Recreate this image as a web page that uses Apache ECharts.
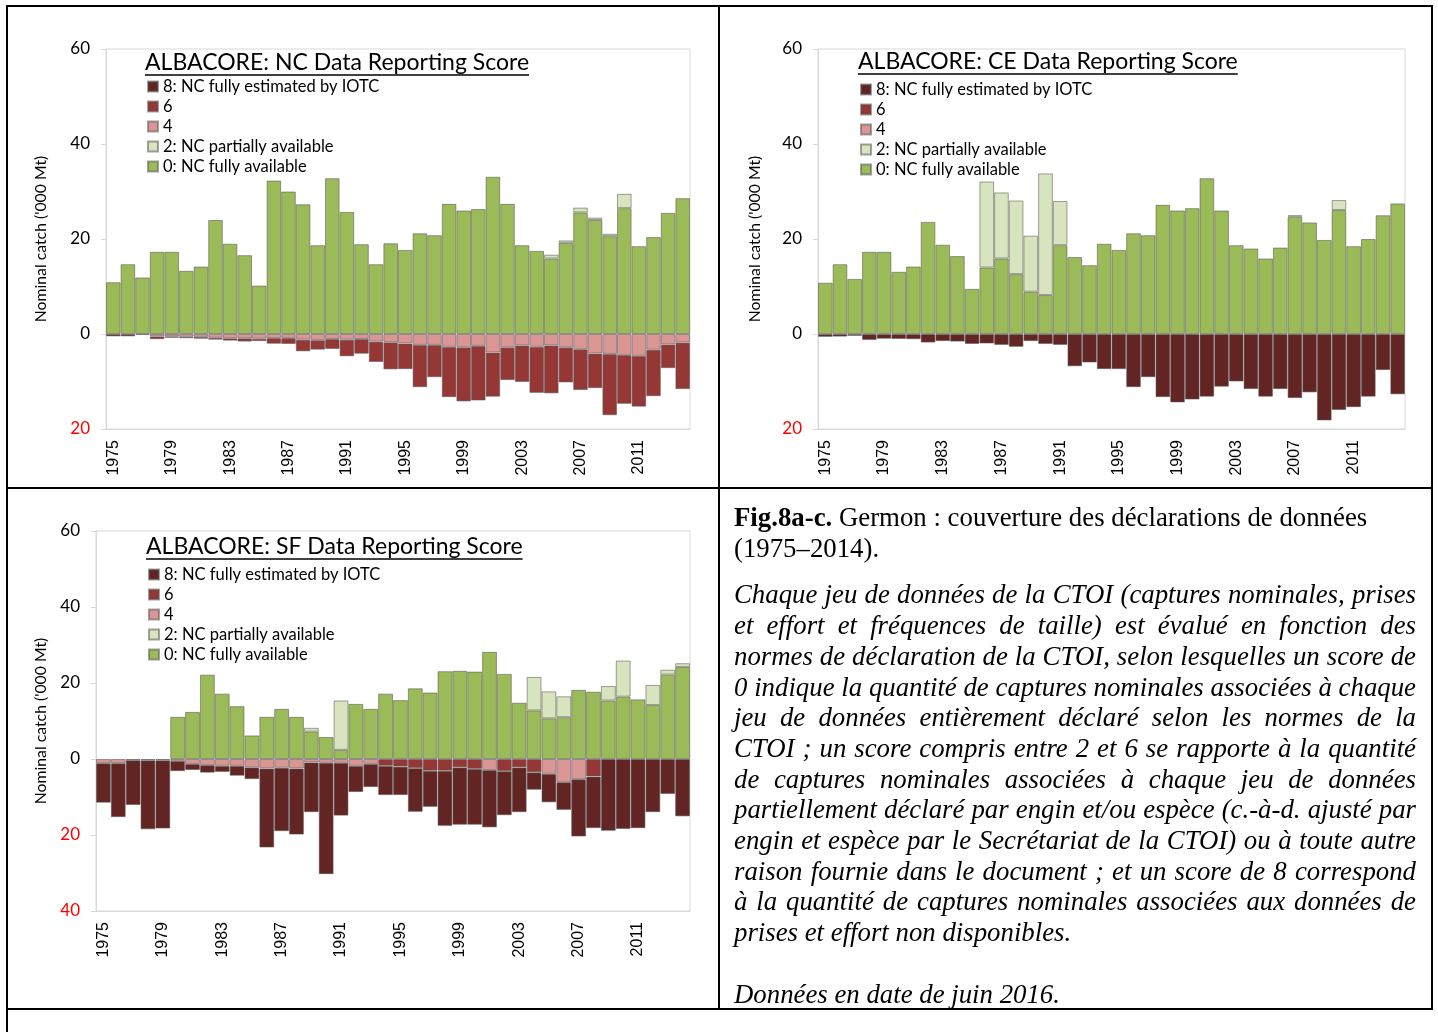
<!DOCTYPE html>
<html><head><meta charset="utf-8">
<script src="https://cdn.jsdelivr.net/npm/echarts@6/dist/echarts.min.js"></script>
<style>
html,body{margin:0;padding:0;background:#fff;}
#chart{position:absolute;left:0;top:0;width:1438px;height:1032px;}
#txt{position:absolute;left:734px;top:502px;width:682px;font-family:'Liberation Serif','Times New Roman',serif;font-size:26.8px;line-height:30.7px;color:#000;z-index:5;}
.it{font-style:italic;text-align:justify;}
</style></head><body>
<div id="chart"></div>
<div id="txt">
<div><b>Fig.8a-c.</b> Germon : couverture des déclarations de données (1975–2014).</div>
<div class="it" style="margin-top:16px">Chaque jeu de données de la CTOI (captures nominales, prises et effort et fréquences de taille) est évalué en fonction des normes de déclaration de la CTOI, selon lesquelles un score de 0 indique la quantité de captures nominales associées à chaque jeu de données entièrement déclaré selon les normes de la CTOI ; un score compris entre 2 et 6 se rapporte à la quantité de captures nominales associées à chaque jeu de données partiellement déclaré par engin et/ou espèce (c.-à-d. ajusté par engin et espèce par le Secrétariat de la CTOI) ou à toute autre raison fournie dans le document ; et un score de 8 correspond à la quantité de captures nominales associées aux données de prises et effort non disponibles.</div>
<div class="it" style="margin-top:30.7px">Données en date de juin 2016.</div>
</div>
<script>
const years = ['1975','1976','1977','1978','1979','1980','1981','1982','1983','1984','1985','1986','1987','1988','1989','1990','1991','1992','1993','1994','1995','1996','1997','1998','1999','2000','2001','2002','2003','2004','2005','2006','2007','2008','2009','2010','2011','2012','2013','2014'];
const scoreNames = ['0: NC fully available','2: NC partially available','4','6','8: NC fully estimated by IOTC'];
const legendOrder = ['8: NC fully estimated by IOTC','6','4','2: NC partially available','0: NC fully available'];
const titles = ['ALBACORE: NC Data Reporting Score','ALBACORE: CE Data Reporting Score','ALBACORE: SF Data Reporting Score'];
const yTicks1 = [-20,0,20,40,60];
const yTicks3 = [-40,-20,0,20,40,60];

// Panel a: NC
const ncScore0 = [10.9,14.7,11.9,17.3,17.3,13.3,14.2,24.0,19.0,16.6,10.2,32.3,30.0,27.3,18.7,32.8,25.7,18.9,14.7,19.1,17.7,21.2,20.8,27.4,26.0,26.3,33.1,27.4,18.7,17.5,15.9,19.2,25.6,24.0,20.6,26.5,18.5,20.4,25.5,28.6];
const ncScore2 = [0,0,0,0,0,0,0,0,0,0,0,0,0,0,0,0,0,0,0,0,0,0,0,0,0,0,0,0,0,0,0.8,0.5,1.0,0.5,0.5,3.0,0,0,0,0];
const ncScore4 = [0,0,0,-0.5,-0.5,-0.6,-0.6,-0.8,-0.9,-0.9,-1.0,-0.85,-0.85,-1.2,-1.3,-1.05,-1.2,-1.05,-1.6,-1.75,-2.0,-2.3,-2.3,-2.7,-2.8,-2.5,-3.9,-2.8,-2.4,-2.7,-2.4,-2.8,-3.2,-4.1,-4.2,-4.4,-4.6,-3.3,-2.2,-1.8];
const ncScore6 = [0,0,0,-0.6,-0.3,-0.3,-0.4,-0.4,-0.5,-0.7,-0.5,-1.2,-1.25,-2.45,-2.0,-2.1,-3.5,-3.1,-4.3,-5.7,-5.4,-8.9,-6.8,-10.6,-11.4,-11.5,-9.3,-6.9,-7.7,-9.7,-10.1,-7.4,-8.6,-7.3,-12.9,-10.3,-10.7,-9.8,-5.0,-9.8];
const ncScore8 = [-0.5,-0.5,-0.2,0,0,0,0,0,0,0,0,0,0,0,0,0,0,0,0,0,0,0,0,0,0,0,0,0,0,0,0,0,0,0,0,0,0,0,0,0];

// Panel b: CE
const ceScore0 = [10.8,14.7,11.6,17.3,17.3,13.1,14.2,23.6,18.8,16.4,9.5,14.0,15.9,12.6,8.9,8.2,18.7,16.2,14.5,19.0,17.7,21.2,20.8,27.2,26.0,26.5,32.8,26.0,18.7,18.0,15.9,18.2,24.7,23.5,19.8,26.1,18.5,20.0,25.0,27.5];
const ceScore2 = [0,0,0,0,0,0,0,0,0,0,0,18.1,13.9,15.5,11.8,25.6,9.3,0,0,0,0,0,0,0,0,0,0,0,0,0,0,0,0.3,0,0,2.1,0,0,0,0];
const ceScore4 = [0,0,0,0,0,0,0,0,0,0,0,0,0,0,0,0,0,0,0,0,0,0,0,0,0,0,0,0,0,0,0,0,0,0,0,0,0,0,0,0];
const ceScore6 = [0,0,0,0,0,0,0,0,0,0,0,0,0,0,0,0,0,0,0,0,0,0,0,0,0,0,0,0,0,0,0,0,0,0,0,0,0,0,0,0];
const ceScore8 = [-0.6,-0.55,-0.4,-1.25,-1.0,-1.05,-1.1,-1.8,-1.5,-1.6,-2.1,-2.0,-2.3,-2.7,-1.5,-2.1,-2.3,-6.8,-6.0,-7.4,-7.4,-11.2,-9.1,-13.3,-14.4,-13.8,-13.2,-11.1,-10.0,-11.6,-13.2,-11.6,-13.5,-12.3,-18.2,-16.0,-15.4,-13.2,-7.6,-12.7];

// Panel c: SF
const sfScore0 = [0,0,0,0,0,11.1,12.4,22.2,17.2,13.9,6.2,11.1,13.2,11.1,7.2,5.8,2.4,14.5,13.2,17.2,15.5,18.6,17.5,23.1,23.2,23.0,28.2,22.4,14.8,12.8,10.7,11.0,18.2,17.7,15.4,16.4,15.7,14.2,22.2,24.2];
const sfScore2 = [0,0,0,0,0,0,0,0,0,0,0,0,0,0,1.0,0,13.0,0,0,0,0,0,0,0,0,0,0,0,0,8.8,7.1,5.5,0,0,3.8,9.5,0,5.3,1.3,1.0];
const sfScore4 = [-1.1,-1.1,-0.3,-0.3,-0.3,-0.5,-1.3,-1.6,-1.8,-1.8,-2.2,-2.5,-2.3,-2.5,-0.9,-1.0,-1.0,-1.8,-1.3,0,0,0,0,0,0,0,-2.9,0,0,0,-3.9,-6.1,-5.3,0,0,0,0,0,0,0];
const sfScore6 = [0,0,0,0,0,0,0,0,0,0,0,0,0,0,0,0,0,0,0,-1.8,-2.0,-2.4,-3.1,-3.1,-2.2,-2.6,0,-3.2,-2.2,-3.5,0,0,0,-4.6,0,0,0,0,0,0];
const sfScore8 = [-10.4,-14.2,-11.8,-18.2,-18.0,-2.7,-1.6,-2.0,-1.6,-2.6,-3.1,-20.8,-16.7,-17.4,-13.1,-29.3,-13.9,-6.9,-6.1,-7.7,-7.5,-11.5,-9.5,-14.5,-15.1,-14.7,-15.1,-11.6,-11.8,-4.6,-7.5,-7.3,-15.1,-13.6,-18.9,-18.4,-18.2,-14.0,-9.2,-15.1];

const panels = [
  [ncScore0, ncScore2, ncScore4, ncScore6, ncScore8],
  [ceScore0, ceScore2, ceScore4, ceScore6, ceScore8],
  [sfScore0, sfScore2, sfScore4, sfScore6, sfScore8]
];

const colors = ['#9BBB59','#D7E4BD','#D99694','#953735','#632523'];
const grids = [
  {left:106, top:49, width:584, height:380},
  {left:818, top:49, width:587, height:380},
  {left:96, top:531, width:594, height:380}
];
const yRanges = [[yTicks1[0], yTicks1[yTicks1.length-1]], [yTicks1[0], yTicks1[yTicks1.length-1]], [yTicks3[0], yTicks3[yTicks3.length-1]]];
const titlePos = [[145,51],[858,50],[146,535]];
const legendPos = [[147,78],[860,81],[148,566]];
const yNameGap = [57, 55, 47];

const chart = echarts.init(document.getElementById('chart'), null, {renderer:'canvas'});
const series = [];
panels.forEach((arrs, p) => {
  arrs.forEach((arr, k) => {
    series.push({
      type:'bar', name: scoreNames[k], xAxisIndex:p, yAxisIndex:p, stack:'s'+p,
      barCategoryGap:'0%',
      itemStyle:{color:colors[k], borderColor:'rgba(85,85,85,0.55)', borderWidth:1},
      emphasis:{disabled:true},
      data: arr.map(v => v === 0 ? '-' : v)
    });
  });
});

const ctx = document.createElement('canvas').getContext('2d');
const titleFont = '23px Lato';
ctx.font = titleFont;
const graphics = [];
titles.forEach((t, i) => {
  const w = ctx.measureText(t).width;
  graphics.push({type:'text', left:titlePos[i][0], top:titlePos[i][1], style:{text:t, font:titleFont, fill:'#000'}});
  graphics.push({type:'line', shape:{x1:titlePos[i][0], y1:titlePos[i][1]+24, x2:titlePos[i][0]+w, y2:titlePos[i][1]+24}, style:{stroke:'#000', lineWidth:1.5}});
});
graphics.push({type:'rect', shape:{x:7, y:6, width:1425, height:1003}, style:{fill:'none', stroke:'#000', lineWidth:2}, z:100});
graphics.push({type:'line', shape:{x1:719, y1:6, x2:719, y2:1009}, style:{stroke:'#000', lineWidth:2}, z:100});
graphics.push({type:'line', shape:{x1:7, y1:488, x2:1432, y2:488}, style:{stroke:'#000', lineWidth:2}, z:100});
graphics.push({type:'line', shape:{x1:7, y1:1009, x2:7, y2:1032}, style:{stroke:'#000', lineWidth:2}, z:100});

const option = {
  animation:false,
  backgroundColor:'#fff',
  grid: grids.map(g => Object.assign({show:true, borderColor:'#d9d9d9', borderWidth:1, backgroundColor:'transparent'}, g)),
  xAxis: grids.map((g, i) => ({
    gridIndex:i, type:'category', data:years,
    axisLine:{onZero:false, lineStyle:{color:'#d9d9d9'}},
    axisTick:{show:false},
    axisLabel:{interval:3, rotate:90, fontSize:16, fontFamily:'Liberation Sans', color:'#000', margin:11}
  })),
  yAxis: grids.map((g, i) => ({
    gridIndex:i, type:'value', min:yRanges[i][0], max:yRanges[i][1], interval:20,
    axisLine:{show:true, lineStyle:{color:'#d9d9d9'}},
    axisTick:{show:true, length:5, lineStyle:{color:'#d9d9d9'}},
    splitLine:{show:false},
    axisLabel:{formatter: v => String(Math.abs(v)), color: v => (Number(v) < 0 ? '#ff0000' : '#000'), fontSize:17, fontFamily:'Lato', margin:16},
    name:"Nominal catch ('000 Mt)", nameLocation:'middle', nameGap:yNameGap[i],
    nameTextStyle:{fontSize:15.8, fontFamily:'Lato', color:'#000'}
  })),
  legend: legendPos.map(p => ({
    left:p[0], top:p[1], orient:'vertical', data:legendOrder, icon:'rect', padding:0,
    itemWidth:10, itemHeight:10, itemGap:3, selectedMode:false,
    textStyle:{fontSize:16.5, fontFamily:'Lato', color:'#000', lineHeight:17}
  })),
  graphic: graphics,
  series: series
};
chart.setOption(option);
</script>
</body></html>
